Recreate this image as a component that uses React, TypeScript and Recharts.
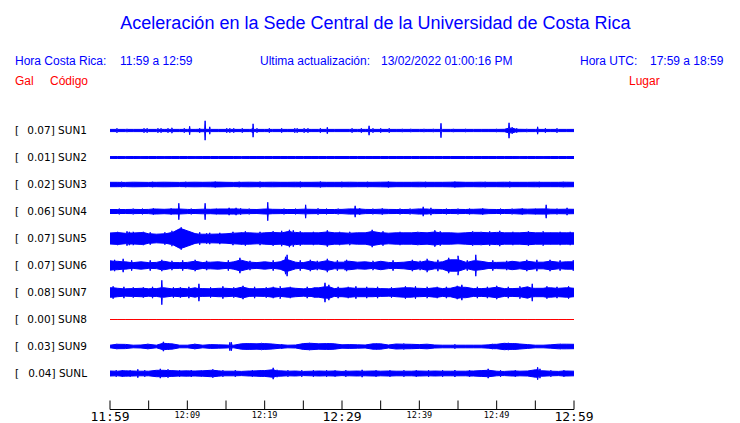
import React from "react";
import { ComposedChart, Area, XAxis, YAxis } from "recharts";

const codes = ["SUN1", "SUN2", "SUN3", "SUN4", "SUN5", "SUN6", "SUN7", "SUN8", "SUN9", "SUNL"];
const places = ["CIMAR", "Ingenieria P01", "Ingenieria P06", "EBCI", "Rectoria", "Agroalimentarias", "Archivo", "Electrica P06", "Electrica P01", "LANAMME-CTT"];
const peaks = [0.07, 0.01, 0.02, 0.06, 0.07, 0.07, 0.08, 0.0, 0.03, 0.04];

// minutes after 11:59
const xTicks = [0, 5, 10, 15, 20, 25, 30, 35, 40, 45, 50, 55, 60];
const xTickLabels = ["11:59", "", "12:09", "", "12:19", "", "12:29", "", "12:39", "", "12:49", "", "12:59"];
const majorLabels = ["11:59", "12:29", "12:59"];

// half-width of each trace (px) per minute
const sun1Env = [1.4, 1.4, 1.4, 1.4, 1.4, 1.4, 1.4, 1.4, 1.4, 1.4, 1.4, 1.4, 1.5, 1.4, 1.4, 1.4, 1.4, 1.4, 1.4, 1.4, 1.4, 1.4, 1.4, 1.4, 1.4, 1.4, 1.4, 1.4, 1.4, 1.4, 1.4, 1.4, 1.4, 1.4, 1.4, 1.4, 1.4, 1.4, 1.4, 1.4, 1.4, 1.4, 1.4, 1.4, 1.4, 1.4, 1.4, 1.4, 1.4, 1.4, 1.4, 1.5, 2.6, 1.5, 1.4, 1.4, 1.4, 1.4, 1.4, 1.4, 1.4];
const sun2Env = [1.2, 1.3, 1.2, 1.3, 1.2, 1.3, 1.3, 1.2, 1.3, 1.3, 1.3, 1.2, 1.3, 1.3, 1.3, 1.3, 1.3, 1.2, 1.3, 1.3, 1.3, 1.3, 1.3, 1.3, 1.3, 1.3, 1.3, 1.3, 1.3, 1.3, 1.3, 1.3, 1.3, 1.3, 1.3, 1.3, 1.3, 1.3, 1.3, 1.3, 1.3, 1.3, 1.3, 1.3, 1.3, 1.3, 1.3, 1.3, 1.3, 1.3, 1.3, 1.3, 1.3, 1.2, 1.3, 1.3, 1.2, 1.3, 1.3, 1.3, 1.3];
const sun3Env = [2.5, 2.5, 2.4, 2.6, 2.5, 2.4, 2.5, 2.6, 2.5, 2.4, 2.5, 2.6, 2.5, 2.6, 2.7, 2.5, 2.4, 2.5, 2.6, 2.5, 2.5, 2.6, 2.5, 2.5, 2.6, 2.5, 2.5, 2.6, 2.5, 2.5, 2.5, 2.6, 2.5, 2.5, 2.5, 2.6, 2.7, 2.5, 2.5, 2.5, 2.6, 2.5, 2.5, 2.5, 2.6, 2.7, 2.5, 2.5, 2.6, 2.5, 2.5, 2.6, 2.5, 2.5, 2.5, 2.6, 2.5, 2.5, 2.5, 2.6, 2.5];
const sun4Env = [2.3, 2.3, 2.3, 2.4, 2.3, 2.4, 2.8, 2.5, 2.8, 2.8, 2.4, 2.3, 2.6, 2.5, 2.8, 2.8, 2.9, 2.6, 2.4, 2.3, 2.8, 2.5, 2.4, 2.3, 2.3, 2.6, 2.5, 2.4, 2.3, 2.3, 2.4, 2.9, 2.8, 2.4, 2.3, 2.6, 2.4, 2.3, 2.3, 2.4, 2.9, 2.8, 2.4, 2.3, 2.3, 2.4, 2.3, 2.5, 2.8, 2.4, 2.3, 2.3, 2.4, 2.8, 2.6, 2.8, 2.9, 2.6, 2.5, 2.6, 2.5];
const sun5Env = [5.8, 6.2, 5.5, 5.8, 6.2, 5, 4.6, 5, 6.2, 10, 8, 5.2, 4.6, 4.6, 4.8, 5, 5.6, 6, 6, 5.6, 6, 6.3, 6, 7.2, 6.4, 6, 6, 6, 6.8, 6, 6, 5.6, 6, 6, 7.2, 6, 5.6, 6, 6, 6, 6.4, 6, 6.8, 6, 6, 5.6, 6, 6.4, 6.4, 6, 6.4, 6, 6, 6, 6.5, 6, 6, 6, 6, 6, 6];
const sun6Env = [5, 4.5, 4, 3.2, 4, 3.2, 3.4, 4.5, 3.2, 3.2, 3.4, 4.5, 3.2, 3.6, 4, 3.2, 4, 5.5, 3.6, 3.2, 4, 3.2, 4, 6, 3.6, 3.2, 4.5, 3.6, 5, 3.6, 3.6, 4.5, 3.6, 4, 3.2, 4.5, 3.4, 3.2, 3.6, 4.5, 3.6, 5, 3.6, 4, 6, 6, 3.6, 5, 4.5, 3.2, 3.4, 3.6, 4.5, 3.6, 4.5, 3.6, 3.6, 4.5, 3.6, 4, 4];
const sun7Env = [5, 4.5, 4, 4.2, 4.5, 4, 4.2, 5, 4, 4.5, 4, 5, 4.2, 4, 4.5, 4.5, 4, 5.5, 4.2, 4, 4.2, 5, 4.2, 5, 4.5, 4, 4.2, 5, 6, 4.2, 4.5, 5, 4.5, 4.5, 4.5, 4.2, 4, 4.5, 5, 5, 4.5, 4.2, 5, 4.2, 4.5, 6, 5.5, 4.2, 4.2, 4.5, 5.5, 4.2, 4.2, 4.5, 6, 4.5, 4.5, 5, 4.5, 5, 4.5];
const sun8Env = [0, 0, 0, 0, 0, 0, 0, 0, 0, 0, 0, 0, 0, 0, 0, 0, 0, 0, 0, 0, 0, 0, 0, 0, 0, 0, 0, 0, 0, 0, 0, 0, 0, 0, 0, 0, 0, 0, 0, 0, 0, 0, 0, 0, 0, 0, 0, 0, 0, 0, 0, 0, 0, 0, 0, 0, 0, 0, 0, 0, 0];
const sun9Env = [1.6, 2.5, 2.4, 1.6, 1.8, 2.5, 1.6, 3.5, 3, 1.6, 1.6, 2.5, 1.6, 2.2, 2, 1.8, 1.6, 3, 3.2, 3, 3.2, 2.8, 2, 1.6, 1.8, 3.2, 3.5, 3, 3.2, 3, 2, 2.2, 2, 1.8, 3, 3, 1.8, 2.8, 2.6, 2.5, 2.2, 2.6, 1.8, 1.6, 1.6, 1.6, 1.6, 1.6, 1.6, 2, 2.5, 3.5, 3.2, 2.8, 2.2, 1.6, 1.6, 2, 2.6, 2.6, 2.5];
const sunLEnv = [2.8, 2.6, 3, 2.8, 2.6, 2.6, 3.5, 3.5, 3.2, 2.8, 3, 2.8, 3, 3.5, 3, 2.6, 2.6, 2.4, 2.8, 3, 3.2, 4, 3, 2.6, 2.8, 2.4, 2.6, 2.8, 2.6, 2.8, 2.4, 2.6, 2.8, 2.6, 2.8, 2.6, 2.8, 2.6, 2.6, 2.6, 2.8, 2.6, 2.8, 2.6, 2.6, 2.6, 2.6, 2.8, 3.2, 3.5, 2.6, 2.4, 2.8, 2.6, 2.8, 4, 3, 2.6, 2.4, 2.8, 2.6];

// short spikes: [minute, half-height px]
const sun1Spikes = [[0.9, 2.5], [2.2, 2], [4.4, 2.5], [4.8, 2.5], [6.2, 2.5], [6.6, 2.5], [7.5, 2.5], [8.0, 3], [9.6, 2.5], [10.3, 4.5], [11.6, 2.5], [12.3, 10], [12.9, 4], [15.1, 2.5], [15.5, 2.5], [16.0, 2.5], [17.1, 2.5], [18.4, 2.5], [18.5, 7], [19.0, 2.5], [20.6, 2.5], [22.2, 2.5], [23.9, 2.5], [24.2, 2.5], [25.1, 2.5], [25.6, 2.5], [27.2, 2.5], [28.1, 3.5], [31.3, 2.5], [32.5, 2.5], [33.5, 5], [34.0, 2.5], [35.0, 2.5], [36.1, 2.5], [37.8, 2], [38.9, 2], [40.6, 2], [41.8, 2], [42.8, 7.5], [44.4, 2], [46.0, 2], [50.0, 2], [51.6, 8], [52.0, 3.5], [52.6, 2.5], [53.9, 2], [55.3, 4], [56.3, 2.5], [57.8, 2.5]];
const sun2Spikes: number[][] = [];
const sun3Spikes = [[1.5, 3.1], [5.5, 3.1], [9.8, 3.1], [13.6, 3.3], [16.7, 3.1], [19.4, 3.2], [24.6, 3.2], [27.2, 3.3], [30.0, 3.1], [33.3, 3.1], [36.0, 3.3], [40.8, 3.1], [44.6, 3.3], [48.5, 3.1], [51.7, 3.2], [55.5, 3.1], [58.6, 3.1]];
const sun4Spikes = [[1.2, 3.2], [3.0, 3.2], [4.2, 3.2], [5.6, 3.5], [7.9, 3.5], [8.4, 3], [8.9, 8.5], [10.5, 3.2], [12.3, 8.5], [13.8, 3.2], [15.4, 4], [16.3, 4], [16.9, 3.5], [18.0, 3.2], [20.4, 9.5], [22.5, 3.2], [24.0, 3.2], [25.3, 7], [26.9, 3.5], [28.0, 3.2], [29.5, 3.2], [31.7, 6], [32.3, 3.5], [34.0, 3.2], [35.2, 3.5], [37.5, 3.2], [38.8, 3.2], [40.5, 5], [41.5, 4], [43.5, 3.2], [45.0, 3.2], [46.5, 3.2], [48.2, 3.5], [50.5, 3.2], [52.0, 3.2], [53.3, 3.5], [55.0, 3.2], [56.4, 7], [57.8, 3.2], [59.1, 4]];
const sun5Spikes = [[1.0, 7], [2.2, 7.5], [2.5, 7], [3.0, 7], [4.3, 7], [5.2, 6.5], [7.1, 6.5], [8.0, 8], [9.2, 11.5], [11.6, 6.5], [12.5, 5.5], [12.9, 6], [14.2, 6], [15.9, 7], [17.0, 6.5], [17.5, 7.5], [19.4, 7], [21.0, 7], [21.1, 7.5], [22.2, 8], [23.2, 9], [23.7, 8.5], [24.6, 7.5], [26.3, 7], [28.1, 8.5], [29.7, 7], [31.0, 7], [33.9, 9], [35.3, 7.5], [37.5, 7], [39.8, 7], [42.0, 8.5], [42.7, 7.5], [46.9, 7.5], [48.0, 7], [49.1, 7.5], [50.4, 8], [52.1, 7], [54.1, 7.5], [56.0, 7.5], [57.0, 6.5], [58.2, 7], [59.5, 7]];
const sun6Spikes = [[0.6, 6], [1.7, 7], [2.8, 5.5], [5.2, 5.5], [6.7, 6], [8.0, 5], [9.4, 5.5], [11.0, 6], [12.5, 5], [15.3, 5.5], [16.8, 8], [18.1, 5], [21.1, 5.5], [22.7, 9], [22.9, 11], [24.6, 5.5], [25.9, 6], [26.8, 5], [28.1, 7], [29.4, 5.5], [30.4, 5], [30.6, 6], [34.0, 5], [36.6, 5.5], [39.1, 6], [40.1, 5], [41.0, 7], [42.4, 6], [43.8, 8], [45.0, 10], [46.2, 5.5], [47.3, 11], [49.5, 5.5], [51.3, 5], [53.9, 6], [55.2, 6], [56.9, 6], [58.2, 5.5], [59.9, 5.5]];
const sun7Spikes = [[0.4, 6.5], [1.8, 6], [3.0, 5.5], [4.3, 5.5], [5.5, 6], [6.7, 12.5], [8.2, 5.5], [9.1, 5.5], [10.2, 6], [11.5, 9], [13.0, 5.5], [14.6, 6.5], [16.0, 5.5], [17.2, 7], [18.7, 6], [20.2, 5.5], [21.1, 6], [22.0, 6.5], [23.3, 6], [25.5, 6], [26.5, 5.5], [27.8, 10], [28.3, 8], [29.5, 6], [30.8, 6], [31.8, 6.5], [33.2, 6], [34.6, 6], [36.4, 5.5], [38.2, 6.5], [39.5, 6.5], [41.0, 6], [42.3, 6], [43.5, 6], [44.9, 7], [45.5, 8], [47.5, 6], [48.8, 6], [50.0, 7], [51.5, 6], [53.0, 6.5], [54.6, 9], [56.5, 6.5], [57.8, 6], [59.3, 6.5]];
const sun8Spikes: number[][] = [];
const sun9Spikes = [[0.9, 3], [4.9, 3], [6.9, 5], [7.6, 3.8], [11.0, 3], [15.5, 4.5], [15.7, 4.5], [17.8, 3.8], [19.6, 3.6], [22.2, 2.8], [25.8, 3.8], [28.4, 3.8], [34.5, 3.6], [38.0, 3.3], [44.6, 2.5], [49.5, 2.8], [51.5, 4], [52.3, 3.8], [58.3, 3]];
const sunLSpikes = [[0.8, 3.6], [1.6, 3.8], [2.6, 3.6], [3.6, 4.5], [4.5, 3.6], [6.5, 5], [7.5, 4.5], [9.0, 3.6], [10.5, 3.8], [11.8, 3.6], [13.3, 4.5], [14.6, 3.6], [16.2, 3.6], [18.4, 3.6], [19.6, 3.8], [21.1, 6], [21.6, 4], [23.0, 3.6], [24.8, 3.6], [26.3, 3.6], [28.0, 3.6], [29.1, 3.5], [30.5, 3.6], [32.6, 4], [34.4, 3.6], [36.2, 3.6], [38.0, 3.6], [39.6, 3.6], [41.2, 3.6], [43.0, 3.6], [44.6, 3.8], [46.5, 3.6], [48.9, 5], [50.5, 3.6], [52.4, 3.6], [55.3, 6.5], [55.6, 5], [57.0, 3.6], [58.7, 3.6]];

const envs = [sun1Env, sun2Env, sun3Env, sun4Env, sun5Env, sun6Env, sun7Env, sun8Env, sun9Env, sunLEnv];
const spikes = [sun1Spikes, sun2Spikes, sun3Spikes, sun4Spikes, sun5Spikes, sun6Spikes, sun7Spikes, sun8Spikes, sun9Spikes, sunLSpikes];

const BLUE = "#0000ff";
const RED = "#ff0000";
const PLOT_H = 296;
const centers = codes.map((_, i) => 279 - 27 * i);

function buildTrace(env: number[], sp: number[][]) {
  const pts = env.map((a, t) => ({ t, a }));
  sp.forEach(([ts, amp]) => {
    const base = env[Math.round(ts)];
    pts.push({ t: ts - 0.06, a: base }, { t: ts, a: amp }, { t: ts + 0.06, a: base });
  });
  return pts.sort((p, q) => p.t - q.t);
}

const traces = envs.map((env, i) => buildTrace(env, spikes[i]));

const TimeTick = (props: any) => {
  const { x, y, payload } = props;
  const label = xTickLabels[xTicks.indexOf(payload.value)];
  const major = majorLabels.includes(label);
  return (
    <g>
      <line x1={x} x2={x} y1={y} y2={y - 9} stroke="#000" strokeWidth={1} />
      {label ? (
        <text x={x} y={major ? y + 11.5 : y + 8.5} textAnchor="middle" fontFamily="DejaVu Sans Mono" fontSize={major ? 13 : 8.5} fill="#000">
          {label}
        </text>
      ) : null}
    </g>
  );
};

const CodeTick = (props: any) => {
  const { x, y, payload } = props;
  const i = centers.indexOf(payload.value);
  if (i < 0) return <g />;
  return (
    <g fontFamily="DejaVu Sans" fontSize={10.5} fill="#000">
      <text x={15} y={y} dy="0.36em">[</text>
      <text x={x} y={y} dy="0.36em" textAnchor="end">{`${peaks[i].toFixed(2)}] ${codes[i]}`}</text>
    </g>
  );
};

const PlaceTick = (props: any) => {
  const { x, y, payload } = props;
  const i = centers.indexOf(payload.value);
  if (i < 0) return <g />;
  return (
    <text x={x} y={y} dy="0.36em" fontFamily="DejaVu Sans" fontSize={10.5} fill="#000">
      {places[i]}
    </text>
  );
};

export default function App() {
  const head = { fontFamily: "'Liberation Sans', Arial, sans-serif", fontSize: 12 };
  return (
    <div style={{ position: "absolute", left: 0, top: 0, width: 740, height: 423, background: "#fff" }}>
      <ComposedChart width={740} height={423} margin={{ top: 113.5, right: 0, bottom: 0, left: 0 }}>
        <XAxis type="number" dataKey="t" domain={[0, 60]} ticks={xTicks} interval={0} allowDataOverflow height={13.5} tickSize={0} tickMargin={0} tickLine={false} axisLine={{ stroke: "#000" }} tick={TimeTick} />
        <YAxis yAxisId={0} type="number" domain={[0, PLOT_H]} ticks={centers} interval={0} width={110} tickSize={0} tickMargin={23} tickLine={false} axisLine={false} tick={CodeTick} />
        <YAxis yAxisId="right" orientation="right" type="number" domain={[0, PLOT_H]} ticks={centers} interval={0} width={166} tickSize={0} tickMargin={13} tickLine={false} axisLine={false} tick={PlaceTick} />
        {traces.map((data, i) => {
          const c = centers[i];
          const color = peaks[i] === 0 ? RED : BLUE;
          return (
            <Area
              key={codes[i]}
              data={data}
              dataKey={(p: any) => {
                const w = Math.max(p.a - 0.3, 0);
                return [c - w, c + w];
              }}
              type="linear"
              stroke={color}
              strokeWidth={1}
              fill={color}
              fillOpacity={1}
              dot={false}
              activeDot={false}
              isAnimationActive={false}
            />
          );
        })}
      </ComposedChart>
      <svg width={740} height={110} style={{ position: "absolute", left: 0, top: 0, pointerEvents: "none" }}>
        <text x={375.5} y={29} textAnchor="middle" fontFamily="'Liberation Sans', Arial, sans-serif" fontSize={18} fill={BLUE}>
          Aceleración en la Sede Central de la Universidad de Costa Rica
        </text>
        <g {...head} fill={BLUE}>
          <text x={15} y={65}>Hora Costa Rica:</text>
          <text x={120} y={65}>11:59 a 12:59</text>
          <text x={260} y={65}>Ultima actualización:</text>
          <text x={381} y={65}>13/02/2022 01:00:16 PM</text>
          <text x={580} y={65}>Hora UTC:</text>
          <text x={650} y={65}>17:59 a 18:59</text>
        </g>
        <g {...head} fill={RED}>
          <text x={15} y={85}>Gal</text>
          <text x={50} y={85}>Código</text>
          <text x={629} y={85}>Lugar</text>
        </g>
      </svg>
    </div>
  );
}
